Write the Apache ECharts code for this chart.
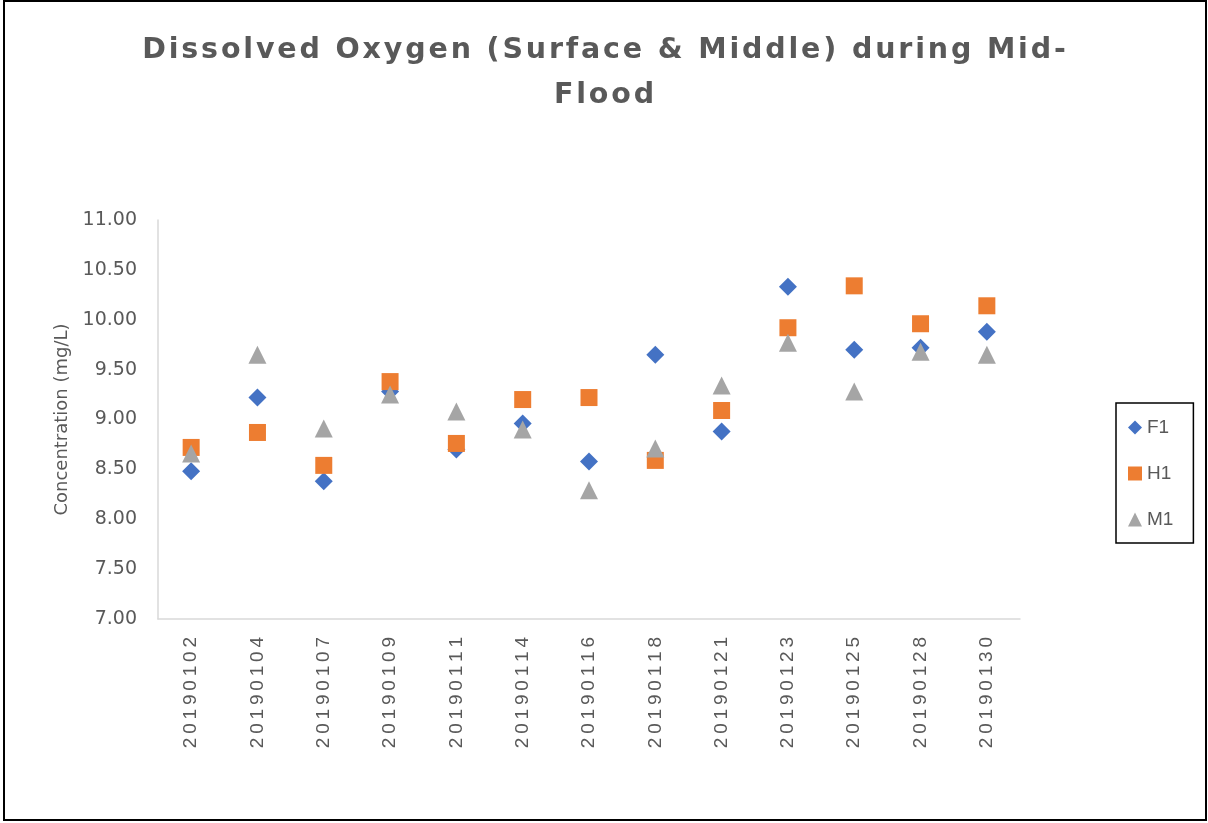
<!DOCTYPE html>
<html>
<head>
<meta charset="utf-8">
<script src="https://cdn.jsdelivr.net/npm/echarts@6/dist/echarts.min.js"></script>
<style>
  html, body { margin: 0; padding: 0; background: #fff; }
  #main { width: 1208px; height: 823px; }
</style>
</head>
<body>
<div id="main"></div>
<script>
var dates = ["20190102", "20190104", "20190107", "20190109", "20190111", "20190114", "20190116",
  "20190118", "20190121", "20190123", "20190125", "20190128", "20190130"];
var f1 = [8.48, 9.22, 8.38, 9.28, 8.70, 8.96, 8.58, 9.65, 8.88, 10.33, 9.70, 9.72, 9.88];
var h1 = [8.72, 8.87, 8.54, 9.38, 8.76, 9.20, 9.22, 8.59, 9.09, 9.92, 10.34, 9.96, 10.14];
var m1 = [8.66, 9.65, 8.91, 9.25, 9.08, 8.90, 8.29, 8.71, 9.34, 9.77, 9.28, 9.68, 9.65];

var myChart = echarts.init(document.getElementById("main"));
var grey = "#595959";

// spread letters a little, like the letter-spaced title of the original
function spaced(s, sep) {
  return s.split("\n").map(function (line) { return line.split("").join(sep); }).join("\n");
}

option = {
  animation: false,
  backgroundColor: "#fff",
  title: {
    text: spaced("Dissolved Oxygen (Surface & Middle) during Mid-\nFlood", "\u200a"),
    left: "center",
    top: 23,
    textStyle: {
      fontFamily: "DejaVu Sans",
      fontWeight: "bold",
      fontSize: 28.5,
      lineHeight: 45,
      color: grey
    }
  },
  legend: {
    orient: "vertical",
    left: 1116,
    top: 403,
    padding: [15, 20, 14, 12],
    borderColor: "#000",
    borderWidth: 1.5,
    itemGap: 27,
    itemWidth: 14,
    itemHeight: 14,
    textStyle: { fontFamily: "Liberation Sans", fontSize: 19, color: grey },
    data: [
      { name: "F1", icon: "diamond" },
      { name: "H1", icon: "rect" },
      { name: "M1", icon: "triangle" }
    ]
  },
  grid: { left: 158, right: 188, top: 220, bottom: 204 },
  xAxis: {
    type: "category",
    data: dates,
    boundaryGap: true,
    axisLine: { lineStyle: { color: "#d9d9d9", width: 1.5 } },
    axisTick: { show: false },
    axisLabel: {
      rotate: 90,
      margin: 18,
      interval: 0,
      color: grey,
      fontFamily: "Liberation Sans",
      fontSize: 19,
      formatter: function (v) { return v.split("").join("\u2009"); }
    }
  },
  yAxis: {
    type: "value",
    min: 7,
    max: 11,
    interval: 0.5,
    name: "Concentration (mg/L)",
    nameLocation: "middle",
    nameGap: 87,
    nameTextStyle: { fontFamily: "DejaVu Sans", fontSize: 18, color: grey },
    axisLine: { show: true, lineStyle: { color: "#d9d9d9", width: 1.5 } },
    axisTick: { show: false },
    splitLine: { show: false },
    axisLabel: {
      margin: 21,
      color: grey,
      fontFamily: "DejaVu Sans",
      fontSize: 19,
      formatter: function (v) { return v.toFixed(2); }
    }
  },
  series: [
    { name: "F1", type: "scatter", symbol: "diamond", symbolSize: 18, data: f1,
      itemStyle: { color: "#4472C4", opacity: 1 } },
    { name: "H1", type: "scatter", symbol: "rect", symbolSize: 17, data: h1,
      itemStyle: { color: "#ED7D31", opacity: 1 } },
    { name: "M1", type: "scatter", symbol: "triangle", symbolSize: 18, data: m1,
      itemStyle: { color: "#A5A5A5", opacity: 1 } }
  ],
  graphic: [{
    type: "rect",
    shape: { x: 4, y: 1, width: 1202, height: 819 },
    style: { fill: null, stroke: "#000", lineWidth: 2 },
    silent: true
  }]
};

myChart.setOption(option);
</script>
</body>
</html>
